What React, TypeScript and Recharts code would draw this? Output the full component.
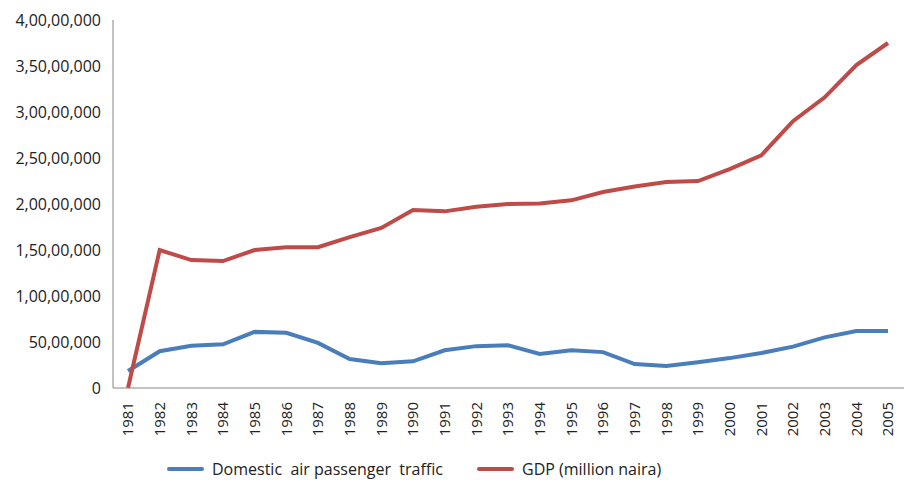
import { LineChart, Line, XAxis, YAxis, Legend } from 'recharts';

const years = [
  '1981', '1982', '1983', '1984', '1985', '1986', '1987', '1988', '1989', '1990',
  '1991', '1992', '1993', '1994', '1995', '1996', '1997', '1998', '1999', '2000',
  '2001', '2002', '2003', '2004', '2005',
];

// Domestic air passenger traffic
const passengers = [
  1850000, 4000000, 4600000, 4750000, 6100000, 6000000, 4900000, 3150000, 2700000, 2900000,
  4100000, 4550000, 4650000, 3700000, 4100000, 3900000, 2600000, 2400000, 2800000, 3250000,
  3800000, 4500000, 5500000, 6200000, 6200000,
];

// GDP (million naira)
const gdp = [
  0, 15000000, 13900000, 13800000, 15000000, 15300000, 15300000, 16400000, 17400000, 19350000,
  19200000, 19700000, 20000000, 20050000, 20400000, 21300000, 21900000, 22400000, 22500000, 23800000,
  25300000, 29000000, 31600000, 35100000, 37500000,
];

const yTicks = [0, 5000000, 10000000, 15000000, 20000000, 25000000, 30000000, 35000000, 40000000];

const data = years.map((y, i) => ({ year: y, passengers: passengers[i], gdp: gdp[i] }));

const FONT = '"Open Sans", sans-serif';
const BLUE = '#4a7ebb';
const RED = '#be4b48';

// indian-style grouping: 4,00,00,000
function indian(v: number) {
  const s = String(Math.round(v));
  if (s.length <= 3) return s;
  const last = s.slice(-3);
  let rest = s.slice(0, -3);
  const parts: string[] = [];
  while (rest.length > 2) {
    parts.unshift(rest.slice(-2));
    rest = rest.slice(0, -2);
  }
  if (rest) parts.unshift(rest);
  return parts.join(',') + ',' + last;
}

function YearTick(props: any) {
  const { x, y, payload } = props;
  return (
    <text
      transform={`translate(${x},${y + 6}) rotate(-90)`}
      textAnchor="end"
      dy="0.35em"
      fontFamily={FONT}
      fontSize={15}
      fill="#222"
    >
      {payload.value}
    </text>
  );
}

function LegendBox() {
  const item = (color: string, label: string, w: number) => (
    <div style={{ display: 'flex', alignItems: 'center', width: w }}>
      <div style={{ width: 37, height: 4, background: color, borderRadius: 2, marginRight: 8 }} />
      <span style={{ fontFamily: FONT, fontSize: 16, color: '#222', whiteSpace: 'pre' }}>{label}</span>
    </div>
  );
  return (
    <div style={{ display: 'flex', paddingLeft: 167, height: 22 }}>
      {item(BLUE, 'Domestic  air passenger  traffic', 310)}
      {item(RED, 'GDP (million naira)', 280)}
    </div>
  );
}

export default function App() {
  return (
    <div style={{ position: 'absolute', left: 0, top: 0, background: '#fff' }}>
      <LineChart width={904} height={487} data={data} margin={{ top: 20, right: 0, left: 0, bottom: 17 }}>
        <XAxis
          dataKey="year"
          height={60}
          tick={<YearTick />}
          tickLine={false}
          interval={0}
          padding={{ left: 15, right: 16 }}
          stroke="#868686"
        />
        <YAxis
          width={113}
          domain={[0, 40000000]}
          ticks={yTicks}
          tickFormatter={indian}
          tickLine={false}
          tickSize={10}
          stroke="#868686"
          tick={{ fontFamily: FONT, fontSize: 16, fill: '#222' }}
        />
        <Legend content={<LegendBox />} wrapperStyle={{ top: 458, left: 0, width: 904 }} />
        <Line
          type="linear"
          dataKey="passengers"
          stroke={BLUE}
          strokeWidth={4}
          dot={false}
          isAnimationActive={false}
        />
        <Line
          type="linear"
          dataKey="gdp"
          stroke={RED}
          strokeWidth={4}
          dot={false}
          isAnimationActive={false}
        />
      </LineChart>
    </div>
  );
}
